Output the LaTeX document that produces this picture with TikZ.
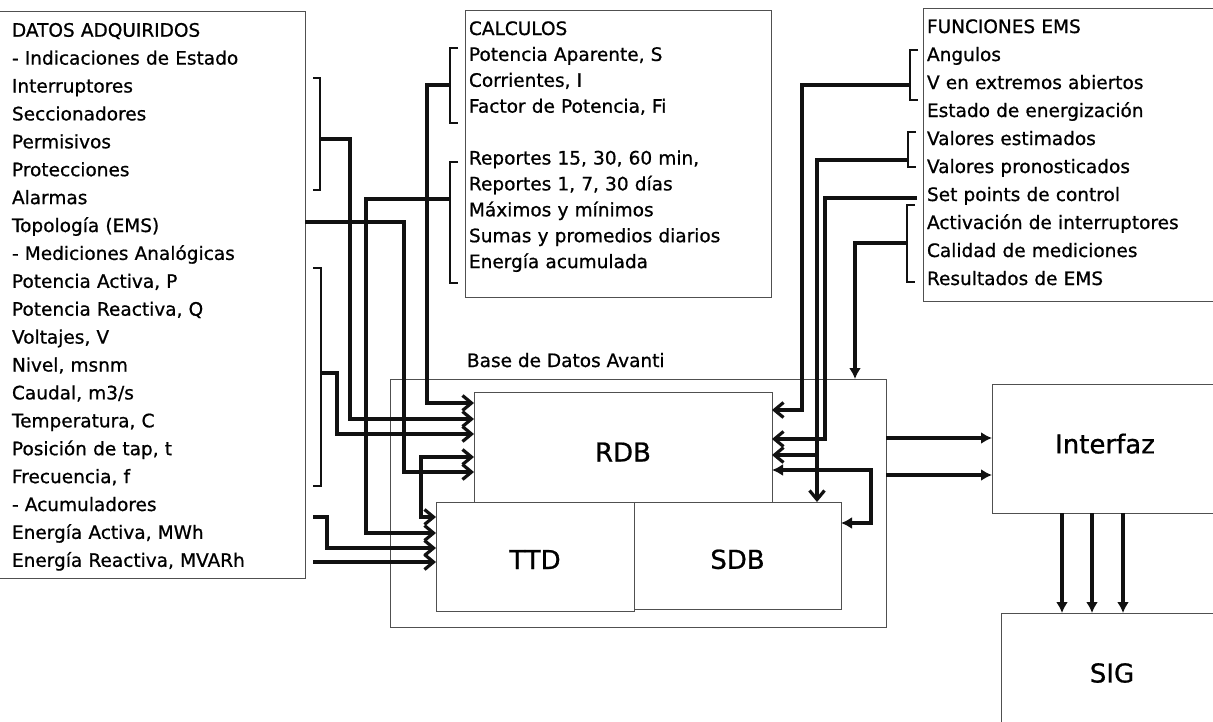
\documentclass[tikz,border=0pt]{standalone}
\usepackage{fontspec}
\setmainfont{DejaVu Sans}[FakeBold=0.8]
\usetikzlibrary{arrows.meta,positioning,calc}
\definecolor{ink}{HTML}{111111}
\definecolor{line}{HTML}{505050}

\begin{document}
\begin{tikzpicture}[x=1pt,y=-1pt,every node/.style={font=\fontsize{18.5}{27.9}\selectfont,inner sep=0pt,outer sep=0pt}]
\tikzstyle{box}=[draw=line,line width=0.9pt,anchor=north west]
\tikzstyle{txt}=[anchor=base west,align=left]
\tikzstyle{big}=[font=\fontsize{26}{30}\selectfont]
\tikzstyle{wire}=[draw=ink,line width=3.2pt]
\tikzstyle{brk}=[draw=ink,line width=2.8pt]
\tikzstyle{barb}=[-{Straight Barb[length=9pt,width=15pt]}]
\tikzstyle{barbs}=[{Straight Barb[length=9pt,width=15pt]}-{Straight Barb[length=9pt,width=15pt]}]
\tikzstyle{tri}=[-{Latex[length=11pt,width=12pt]}]
\tikzstyle{tris}=[{Latex[length=11pt,width=12pt]}-{Latex[length=11pt,width=12pt]}]
\fill[white] (0,0) rectangle (1213,721);
\useasboundingbox (0,0) rectangle (1213,721);
% lists
\node[box,minimum width=310pt,minimum height=567pt] (datosbox) at (-5,11) {};
\node[txt,text width=290pt] (datos) at (12,36.7) {DATOS ADQUIRIDOS\\- Indicaciones de Estado\\Interruptores\\Seccionadores\\Permisivos\\Protecciones\\Alarmas\\Topología (EMS)\\- Mediciones Analógicas\\Potencia Activa, P\\Potencia Reactiva, Q\\Voltajes, V\\Nivel, msnm\\Caudal, m3/s\\Temperatura, C\\Posición de tap, t\\Frecuencia, f\\- Acumuladores\\Energía Activa, MWh\\Energía Reactiva, MVARh};
\node[box,minimum width=306pt,minimum height=287pt] (calcbox) at (465,10) {};
\node[txt,text width=300pt,font=\fontsize{18.5}{25.9}\selectfont] (calc) at (469,35) {CALCULOS\\Potencia Aparente, S\\Corrientes, I\\Factor de Potencia, Fi\\[25.9pt]Reportes 15, 30, 60 min,\\Reportes 1, 7, 30 días\\Máximos y mínimos\\Sumas y promedios diarios\\Energía acumulada};
\node[box,minimum width=300pt,minimum height=293pt] (emsbox) at (923,8) {};
\node[txt,text width=300pt,font=\fontsize{18.5}{28}\selectfont] (ems) at (927,33) {FUNCIONES EMS\\Angulos\\V en extremos abiertos\\Estado de energización\\Valores estimados\\Valores pronosticados\\Set points de control\\Activación de interruptores\\Calidad de mediciones\\Resultados de EMS};
% database
\node[txt] (avanti) at (467,367) {Base de Datos Avanti};
\node[box,minimum width=496pt,minimum height=248pt] (base) at (390,379) {};
\node[box,big,minimum width=298pt,minimum height=110pt,text height=29pt] (rdb) at (474,392) {RDB};
\node[box,big,minimum width=198pt,minimum height=109pt,text height=25pt] (ttd) at (436,502) {TTD};
\node[box,big,minimum width=207pt,minimum height=107pt,text height=27pt] (sdb) at (634,502) {SDB};
\node[box,big,minimum width=226pt,minimum height=129pt,text depth=10pt] (interfaz) at (992,384) {Interfaz};
\node[box,big,minimum width=222pt,minimum height=120pt] (sig) at (1001,613) {SIG};
% acquired data to RDB and TTD
\draw[brk] (313,78) -- (320,78) -- (320,190) -- (313,190);
\coordinate (estado) at (320,139);
\draw[wire,barb] (estado) -- (350,139) -- (350,419) -- (rdb.west |- 0,419);
\draw[brk] (313,268) -- (321,268) -- (321,486) -- (313,486);
\coordinate (medic) at (321,373);
\draw[wire,barb] (medic) -- (337,373) -- (337,434) -- (rdb.west |- 0,434);
\draw[wire,barb] (datosbox.east |- 0,222) -- (404,222) -- (404,472) -- (rdb.west |- 0,472);
\coordinate (eact) at (313,517);
\draw[wire,barb] (eact) -- (327,517) -- (327,548) -- (ttd.west |- 0,548);
\coordinate (ereact) at (313,562);
\draw[wire,barb] (ereact) -- (ttd.west |- ereact);
% calculations
\draw[brk] (458,48) -- (450,48) -- (450,123) -- (458,123);
\coordinate (calc1) at (450,85);
\draw[wire,barb] (calc1) -- (427,85) -- (427,403) -- (rdb.west |- 0,403);
\draw[brk] (458,162) -- (450,162) -- (450,283) -- (458,283);
\coordinate (calc2) at (450,199);
\draw[wire,barb] (calc2) -- (366,199) -- (366,533) -- (ttd.west |- 0,533);
\draw[wire,barbs] (rdb.west |- 0,457) -- (421,457) -- (421,517) -- (ttd.west |- 0,517);
% EMS functions
\draw[brk] (918,50) -- (910,50) -- (910,100) -- (918,100);
\coordinate (ems1) at (910,85);
\draw[wire,barb] (ems1) -- (802,85) -- (802,410) -- (rdb.east |- 0,410);
\draw[brk] (916,132) -- (908,132) -- (908,167) -- (916,167);
\coordinate (ems2) at (908,160);
\coordinate (split) at (817,455);
\draw[wire,barb] (ems2) -- (817,160) -- (split) -- (rdb.east |- split);
\draw[wire,barb] (split) -- (split |- sdb.north);
\coordinate (setp) at (917,198);
\draw[wire,barb] (setp) -- (825,198) -- (825,439) -- (rdb.east |- 0,439);
\draw[brk] (915,205) -- (907,205) -- (907,282) -- (915,282);
\coordinate (ems3) at (907,243);
\draw[wire,tri] (ems3) -- (855,243) -- (base.north -| 855,0);
\draw[wire,tris] (rdb.east |- 0,470) -- (871,470) -- (871,523) -- (sdb.east |- 0,523);
% outputs
\draw[wire,tri] (base.east |- 0,438) -- (interfaz.west |- 0,438);
\draw[wire,tri] (base.east |- 0,475) -- (interfaz.west |- 0,475);
\foreach \x in {1062,1092,1123}
  \draw[wire,tri] (interfaz.south -| \x,0) -- (sig.north -| \x,0);
\end{tikzpicture}
\end{document}
